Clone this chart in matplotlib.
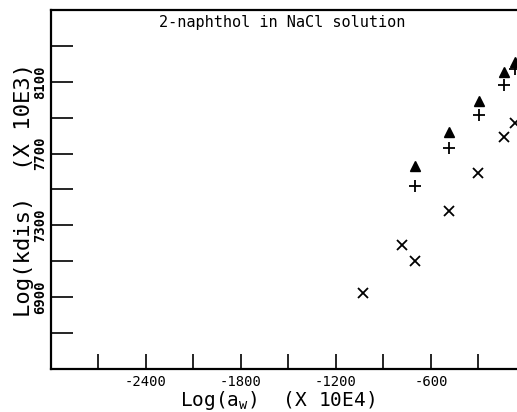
import numpy as np
import matplotlib
matplotlib.use("Agg")
import matplotlib.pyplot as plt

# log(a_w) x 10^4 and log(kdis) x 10^3
x_tri = [-703, -486, -297, -139, -71]
y_tri = [7629, 7822, 7994, 8152, 8211]

x_plus = [-703, -486, -297, -139, -71]
y_plus = [7518, 7732, 7917, 8083, 8170]

x_cross = [-1030, -783, -703, -486, -306, -139, -71]
y_cross = [6924, 7193, 7100, 7378, 7593, 7791, 7870]

x_ticks = [-2700, -2400, -2100, -1800, -1500, -1200, -900, -600, -300]
x_labels = ["", "-2400", "", "-1800", "", "-1200", "", "-600", ""]
y_ticks = [6700, 6900, 7100, 7300, 7500, 7700, 7900, 8100, 8300]
y_labels = ["", "6900", "", "7300", "", "7700", "", "8100", ""]

plt.rcParams['font.family'] = ['DejaVu Sans Mono', 'DejaVu Sans']

fig = plt.figure(figsize=(5.17, 4.12), dpi=100)
ax = fig.add_axes([0.0986, 0.1044, 0.9188, 0.8714])

ax.plot(x_tri, y_tri, linestyle='none', marker='^', color='black', markersize=6.5)
ax.plot(x_plus, y_plus, linestyle='none', marker='+', color='black', markersize=8, markeredgewidth=1.3)
ax.plot(x_cross, y_cross, linestyle='none', marker='x', color='black', markersize=7, markeredgewidth=1.3)

ax.set_xlim(-3000, 0)
ax.set_ylim(6500, 8500)

ax.set_xticks(x_ticks)
ax.set_xticklabels(x_labels, fontsize=10)
ax.set_yticks(y_ticks)
ax.set_yticklabels(y_labels, fontsize=10, rotation=90, va='center', fontweight='bold')

ax.tick_params(axis='x', direction='in', length=11, width=1.2, pad=4)
ax.tick_params(axis='y', direction='in', length=16, width=1.2, pad=3)

for s in ax.spines.values():
    s.set_linewidth(1.6)

ax.text(0.486, 0.985, "2-naphthol in NaCl solution", transform=ax.transAxes,
        ha='center', va='top', fontsize=11)

ax.set_xlabel(r"Log(a$_\mathregular{w}$)  (X 10E4)", fontsize=14)
ax.xaxis.set_label_coords(0.476, -0.088)
ax.xaxis.label.set_va('center')
ax.set_ylabel("Log(kdis)  (X 10E3)", fontsize=16, labelpad=-1)

fig.savefig("out.png", dpi=100)
